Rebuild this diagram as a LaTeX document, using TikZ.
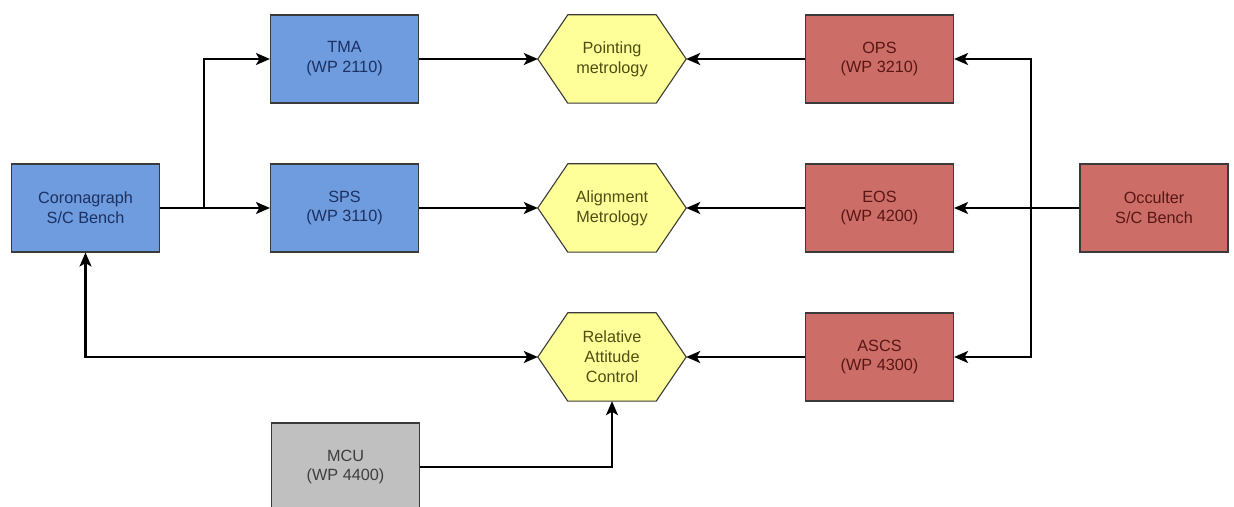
\documentclass[tikz,border=0pt]{standalone}
\usepackage{fontspec}
\setmainfont{Liberation Sans}
\usetikzlibrary{arrows.meta}
\pgfdeclarelayer{bg}
\pgfsetlayers{bg,main}

\definecolor{bluefill}{RGB}{110,156,222}
\definecolor{bluetext}{RGB}{28,48,98}
\definecolor{redfill}{RGB}{204,110,103}
\definecolor{redtext}{RGB}{88,22,20}
\definecolor{yelfill}{RGB}{255,255,153}
\definecolor{yeltext}{RGB}{78,78,20}
\definecolor{grayfill}{RGB}{192,192,192}
\definecolor{graytext}{RGB}{62,62,62}
\definecolor{edge}{RGB}{58,58,58}

\tikzset{
  box/.style={rectangle, draw=edge, line width=1.1bp, minimum width=148bp, minimum height=88bp,
    inner sep=0pt, align=center, font=\fontsize{16.3}{20}\selectfont},
  bluebox/.style={box, fill=bluefill, text=bluetext},
  redbox/.style={box, fill=redfill, text=redtext},
  graybox/.style={box, fill=grayfill, text=graytext},
  hexbox/.style={rectangle, minimum width=148bp, minimum height=88bp, inner sep=0pt,
    align=center, text=yeltext, font=\fontsize{16.3}{20}\selectfont},
  hexline/.style={draw=edge, line width=1.1bp, fill=yelfill},
  tip/.style={Stealth[length=14bp,width=12bp,inset=3.5bp]},
  link/.style={line width=2.1bp, -{Stealth[length=14bp,width=12bp,inset=3.5bp]}},
}

% hexagon drawn behind a rectangular node of the same name
\newcommand{\hexshape}[1]{%
  \begin{pgfonlayer}{bg}
    \draw[hexline] (#1.west) -- ([xshift=30bp]#1.north west) -- ([xshift=-30bp]#1.north east)
      -- (#1.east) -- ([xshift=-30bp]#1.south east) -- ([xshift=30bp]#1.south west) -- cycle;
  \end{pgfonlayer}}

\begin{document}
\begin{tikzpicture}[x=1bp, y=-1bp]
  \useasboundingbox (0,0) rectangle (1234,507);
  \begin{scope}
  \clip (0,0) rectangle (1234,507);

  % blocks
  \node[bluebox] (cor) at (85.5,208) {Coronagraph\\S/C Bench};
  \node[bluebox] (tma) at (344.5,59) {TMA\\(WP 2110)};
  \node[bluebox] (sps) at (344.5,208) {SPS\\(WP 3110)};

  \node[hexbox] (pm) at (612,59) {Pointing\\metrology};
  \node[hexbox] (am) at (612,208) {Alignment\\Metrology};
  \node[hexbox] (rac) at (612,357) {Relative\\Attitude\\Control};
  \hexshape{pm}
  \hexshape{am}
  \hexshape{rac}

  \node[redbox] (ops) at (879.5,59) {OPS\\(WP 3210)};
  \node[redbox] (eos) at (879.5,208) {EOS\\(WP 4200)};
  \node[redbox] (ascs) at (879.5,357) {ASCS\\(WP 4300)};
  \node[redbox] (occ) at (1154,208) {Occulter\\S/C Bench};

  \node[graybox] (mcu) at (345.5,467) {MCU\\(WP 4400)};

  % junction points
  \coordinate (jl) at (204,208);
  \coordinate (jr) at (1031,208);

  % connectors
  \draw[link] (cor.east) -- (sps.west);
  \draw[link] (jl) |- (tma.west);
  \draw[link] (tma.east) -- (pm.west);
  \draw[link] (sps.east) -- (am.west);
  \draw[link] (ops.west) -- (pm.east);
  \draw[link] (eos.west) -- (am.east);
  \draw[link] (ascs.west) -- (rac.east);
  \draw[link] (occ.west) -- (eos.east);
  \draw[link] (jr) |- (ops.east);
  \draw[link] (jr) |- (ascs.east);
  \draw[link, {Stealth[length=14bp,width=12bp,inset=3.5bp]}-{Stealth[length=14bp,width=12bp,inset=3.5bp]}]
    (cor.south) |- (rac.west);
  \draw[link] (mcu.east) -| (rac.south);
  \end{scope}
\end{tikzpicture}
\end{document}
